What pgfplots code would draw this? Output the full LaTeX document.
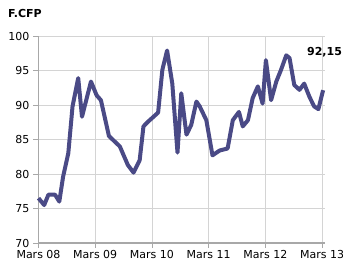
\documentclass[border=0pt]{standalone}
\usepackage{pgfplots}
\pgfplotsset{compat=1.18}
\usepackage{fontspec}
\setmainfont{DejaVu Sans}
\definecolor{lineblue}{HTML}{4A4A86}
\definecolor{gridgray}{HTML}{D4D4D4}
\definecolor{axisgray}{HTML}{A8A8A8}
\begin{document}
\begin{tikzpicture}
\path[use as bounding box] (-38.5pt,-23pt) rectangle (304.5pt,243pt);
\begin{axis}[
  at={(0,0)}, anchor=south west,
  scale only axis,
  width=286.5pt, height=207pt,
  xmin=0, xmax=60.6,
  ymin=70, ymax=100,
  xtick={0,12,24,36,48,60},
  xticklabels={Mars 08,Mars 09,Mars 10,Mars 11,Mars 12,Mars 13},
  ytick={70,75,80,85,90,95,100},
  grid=major,
  major grid style={gridgray, line width=0.9pt},
  axis x line*=bottom, axis y line*=left,
  axis line style={axisgray, line width=1.3pt, -},
  x tick style={axisgray, line width=0.9pt},
  y tick style={axisgray, line width=0.9pt},
  major tick length=5pt,
  tick align=outside,
  every tick label/.append style={font=\fontsize{11}{13}\selectfont, text=black},
  /pgf/number format/assume math mode=true,
  xticklabel style={yshift=1.5pt},
  yticklabel style={xshift=-0.5pt},
  clip=false,
]
\addplot[lineblue, line width=4pt, line join=round] coordinates {
(0,76.5) (1.2,75.5) (2.1,77) (3.5,77) (4.4,76) (5.2,79.6) (6.3,83) (7.2,89.8)
(8.4,93.9) (9.2,88.3) (11.1,93.4) (12.3,91.4) (13.2,90.7) (14.9,85.5) (17.2,84)
(18.9,81.3) (20.1,80.2) (21.4,82) (22.2,86.9) (23.2,87.6) (25.3,88.9) (26.2,95.1)
(27.2,97.9) (28.3,93.1) (29.4,83.1) (30.2,91.7) (31.3,85.7) (32.3,87.1) (33.4,90.5)
(34.1,89.8) (35.5,87.8) (36.8,82.7) (38.3,83.4) (40,83.7) (41.1,87.8) (42.4,89)
(43.2,86.9) (44.3,87.8) (45.3,91) (46.4,92.7) (47.4,90.2) (48.1,96.5) (49.2,90.7)
(50.3,93.4) (51.3,95.1) (52.4,97.2) (53.1,96.8) (54.1,92.9) (55.2,92.2) (56.2,93.1)
(57.3,91.2) (58.3,89.8) (59.2,89.4) (60.2,92.15)
};
\node[font=\fontsize{11}{13}\selectfont\bfseries] at (axis cs:60.5,97.7) {92,15};
\end{axis}
\node[font=\fontsize{11}{13}\selectfont\bfseries, anchor=west] at (-34pt,230pt) {F.CFP};
\end{tikzpicture}
\end{document}
